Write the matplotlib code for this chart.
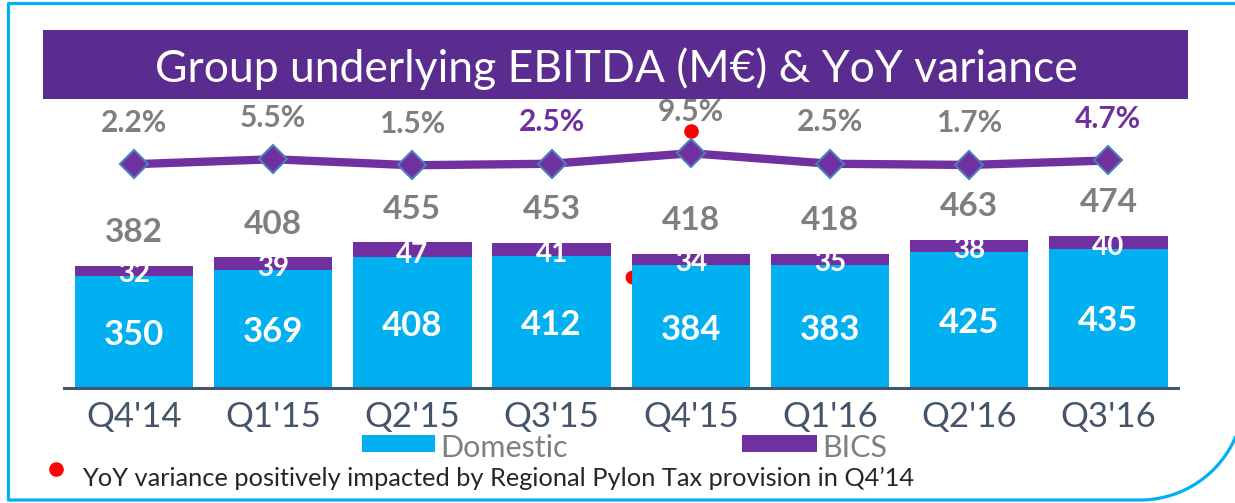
import numpy as np
import matplotlib
matplotlib.use("Agg")
import matplotlib.pyplot as plt
from matplotlib.patches import Rectangle
from matplotlib import transforms

plt.rcParams['font.family'] = ['Lato', 'DejaVu Sans']

quarters = ["Q4'14", "Q1'15", "Q2'15", "Q3'15", "Q4'15", "Q1'16", "Q2'16", "Q3'16"]
domestic = [350, 369, 408, 412, 384, 383, 425, 435]
bics = [32, 39, 47, 41, 34, 35, 38, 40]
totals = [382, 408, 455, 453, 418, 418, 463, 474]
yoy = [2.2, 5.5, 1.5, 2.5, 9.5, 2.5, 1.7, 4.7]
yoy_labels = ["2.2%", "5.5%", "1.5%", "2.5%", "9.5%", "2.5%", "1.7%", "4.7%"]
yoy_highlight = [False, False, False, True, False, False, False, True]

blue = "#00B0F0"
purple = "#7030A0"
banner = "#5B2C8F"
grey = "#7F7F7F"
slate = "#44546A"

W, H = 1235, 503
fig = plt.figure(figsize=(W / 100, H / 100), dpi=100)

# background overlay in pixel coordinates
bg = fig.add_axes([0, 0, 1, 1], zorder=0)
bg.set_xlim(0, W)
bg.set_ylim(H, 0)
bg.axis('off')

# cyan frame with rounded bottom-right corner
r = 104
t = np.radians(np.linspace(0, 80, 60))
arc_x = 1140 + r * np.sin(t)
arc_y = 500 - r * (1 - np.cos(t))
fx = np.concatenate([[W + 5, 8.5, 8.5], arc_x])
fy = np.concatenate([[3.5, 3.5, 500], arc_y])
bg.plot(fx, fy, color=blue, lw=2.3, clip_on=False, solid_capstyle='butt')

# title banner
bg.add_patch(Rectangle((43, 30), 1145, 69, color=banner, lw=0))
bg.text(616, 69, "Group underlying EBITDA (M€) & YoY variance", color="white",
        fontsize=32, ha='center', va='center')

# legend
bg.add_patch(Rectangle((362, 435), 73, 17, color=blue, lw=0))
bg.text(440, 448, "Domestic", color=grey, fontsize=22, ha='left', va='center')
bg.add_patch(Rectangle((742, 435), 75, 17, color=purple, lw=0))
bg.text(822, 448, "BICS", color=grey, fontsize=22, ha='left', va='center')

# footnote
bg.plot([56], [469], 'o', color='red', ms=9.5)
bg.text(82, 478, "YoY variance positively impacted by Regional Pylon Tax provision in Q4\u201914",
        color="#262626", fontsize=18.3, ha='left', va='center')

# chart axes
left, right = 64.4, 1178
top, bottom = 100, 388
ax = fig.add_axes([left / W, (H - bottom) / H, (right - left) / W, (bottom - top) / H], zorder=2)
ax.patch.set_alpha(0)
x = np.arange(len(quarters))
ax.bar(x, domestic, width=0.85, color=blue, zorder=3)
ax.bar(x, bics, bottom=domestic, width=0.85, color=purple, zorder=3)
ax.set_xlim(-0.5, 7.5)
ax.set_ylim(0, 900)
for s in ['top', 'right', 'left']:
    ax.spines[s].set_visible(False)
ax.spines['bottom'].set_color(slate)
ax.spines['bottom'].set_linewidth(2.2)
ax.spines['bottom'].set_zorder(4)
ax.set_yticks([])
ax.set_xticks(x)
ax.set_xticklabels(quarters, fontsize=25, color=slate)
ax.tick_params(axis='x', length=0, pad=9)

for i in x:
    ax.text(i, domestic[i] / 2, str(domestic[i]), color='white', fontsize=25,
            fontweight='bold', ha='center', va='center_baseline', zorder=5)
    ax.annotate(str(bics[i]), (i, domestic[i]), xytext=(0, 1.5), textcoords='offset points',
                color='white', fontsize=20, fontweight='bold', ha='center', va='center', zorder=5)
    ax.annotate(str(totals[i]), (i, totals[i]), xytext=(0, 24), textcoords='offset points',
                color=grey, fontsize=24, fontweight='bold', ha='center', va='center', zorder=5)

# red marker partly hidden behind the Q4'15 bar
ax.plot([4 - 0.425], [347], 'o', color='red', ms=9, zorder=2)

# YoY line on twin axis
ax2 = ax.twinx()
ax2.set_ylim(-147, 45)
ax2.axis('off')
ax2.plot(x, yoy, color=purple, lw=6, marker='D', ms=14, mfc=purple, mec="#4A7EBB", mew=1.5, zorder=3)
for i in x:
    hl = yoy_highlight[i]
    ax2.annotate(yoy_labels[i], (i, yoy[i]), xytext=(0, 30), textcoords='offset points',
                 color=purple if hl else grey, fontsize=21.5,
                 fontweight='bold', ha='center', va='center')
dot_tr = transforms.offset_copy(ax2.transData, fig=fig, x=0, y=16, units='points')
ax2.plot([4], [yoy[4]], 'o', color='red', ms=9.5, transform=dot_tr, clip_on=False)

fig.savefig("out.png", dpi=100)
